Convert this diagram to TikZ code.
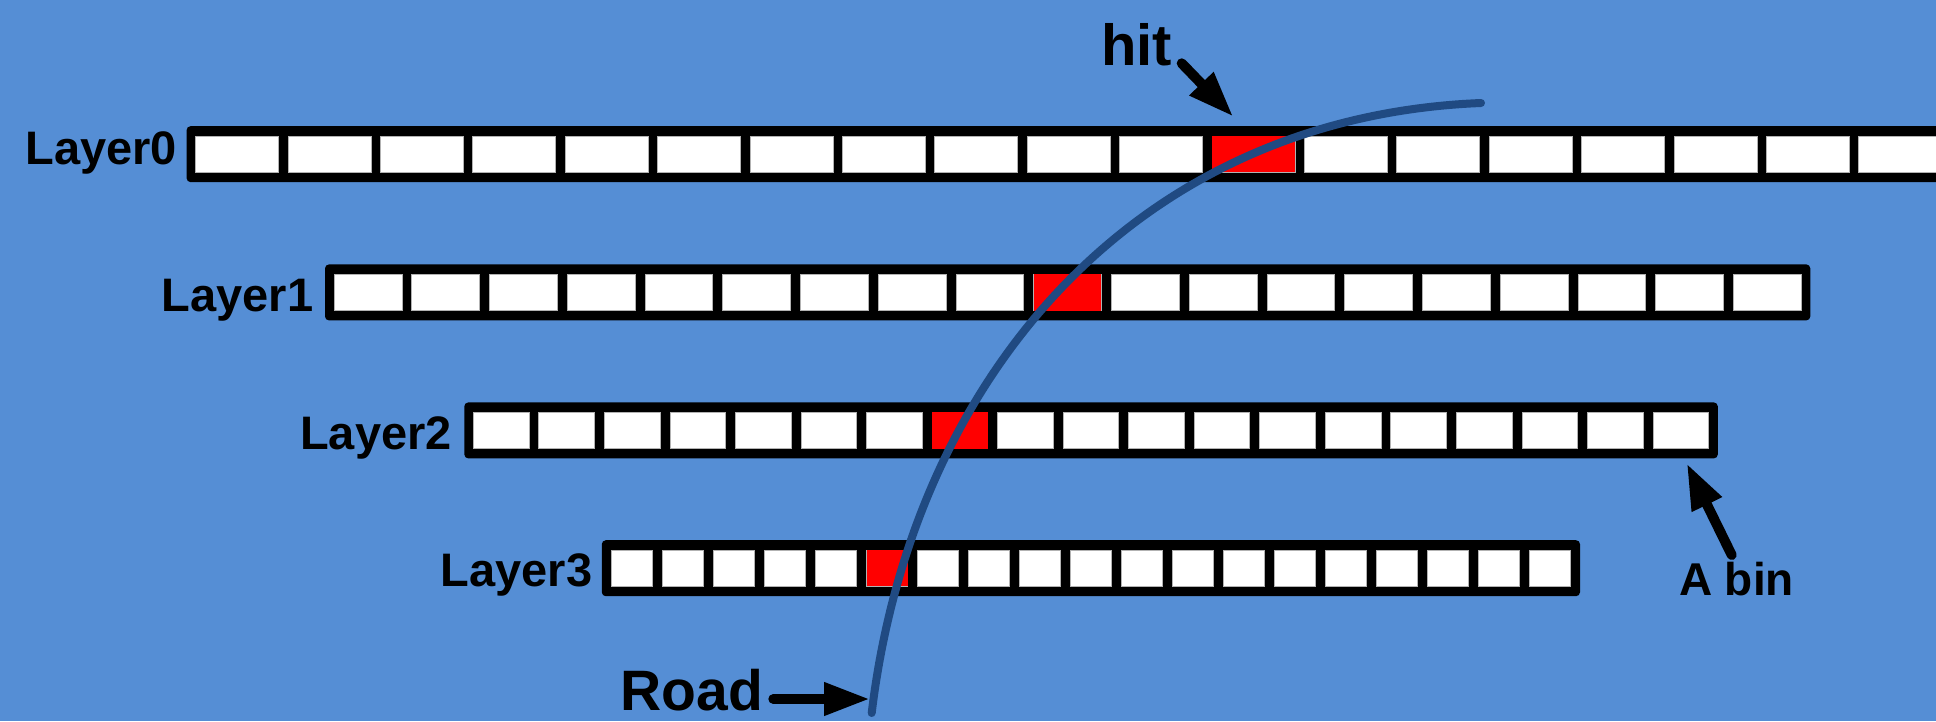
\documentclass[tikz,border=0pt]{standalone}
\usepackage{fontspec}
\setmainfont{Liberation Sans}
\usetikzlibrary{arrows.meta}
\definecolor{bgblue}{RGB}{85,142,213}
\definecolor{roadc}{RGB}{32,74,130}
\definecolor{hitred}{RGB}{255,0,0}
\newcommand{\drawlayer}[7]{% #1 id, #2 barL, #3 barR, #4 bar center y, #5 first cell x, #6 pitch, #7 cell w
  \pgfmathsetmacro{\LbW}{#3-#2}%
  \pgfmathsetmacro{\LbX}{(#2+#3)/2}%
  \node[barbox, minimum width=\LbW pt] (#1bar) at (\LbX,#4) {};%
  \foreach \i in {0,...,18} {%
    \pgfmathsetmacro{\LcX}{#5+\i*#6+#7/2}%
    \node[cellbox, minimum width=#7pt] (#1c\i) at (\LcX,#4) {};%
  }%
}
\begin{document}
\begin{tikzpicture}[x=1pt,y=-1pt,
  barbox/.style={fill=black, draw=none, rounded corners=4pt, minimum height=56pt, inner sep=0pt, outer sep=0pt},
  cellbox/.style={fill=white, draw=gray!60, line width=0.6pt, minimum height=36.3pt, inner sep=0pt, outer sep=0pt},
  lbl/.style={inner sep=0pt, outer sep=0pt, font=\bfseries\fontsize{47}{47}\selectfont},
  ptr/.style={line width=10pt, line cap=round, -{Triangle[length=46pt,width=31pt]}},
  roadline/.style={draw=roadc, line width=8pt, line cap=round}]
\fill[bgblue] (0,0) rectangle (1936,721);
\clip (0,0) rectangle (1936,721);

% layers
\drawlayer{L0}{186.6}{1975}{154.15}{195.5}{92.4}{83}
\drawlayer{L1}{325}{1810.3}{292.4}{334}{77.74}{67.8}
\drawlayer{L2}{464.3}{1717.8}{430.4}{473.2}{65.54}{55.6}
\drawlayer{L3}{601.8}{1580}{568.2}{611.7}{50.97}{41}

% hit cells
\node[cellbox, fill=hitred, draw=none, minimum width=83pt] (L0hit) at (L0c11) {};
\node[cellbox, fill=hitred, draw=none, minimum width=67.8pt] (L1hit) at (L1c9) {};
\node[cellbox, fill=hitred, draw=none, minimum width=55.6pt] (L2hit) at (L2c7) {};
\node[cellbox, fill=hitred, draw=none, minimum width=41pt] (L3hit) at (L3c5) {};

% labels
\node[lbl, anchor=base west] (lab0) at (25.6,164) {Layer0};
\node[lbl, anchor=base west] (lab1) at (161.8,311.7) {Layer1};
\node[lbl, anchor=base west] (lab2) at (300.2,449.3) {Layer2};
\node[lbl, anchor=base west] (lab3) at (440.8,586.7) {Layer3};
\node[lbl, anchor=base west, font=\bfseries\fontsize{58}{58}\selectfont] (hit) at (1101,65) {hit};
\node[lbl, anchor=base west, font=\bfseries\fontsize{57}{57}\selectfont] (road) at (620.7,710) {Road};
\node[lbl, anchor=base west, font=\bfseries\fontsize{46}{46}\selectfont] (abin) at (1679,595.7) {A bin};

% pointers
\coordinate (hitTail) at (1181.7,63.3);
\coordinate (hitTip) at (1233.3,116.7);
\coordinate (roadTail) at (773.3,699);
\coordinate (roadTip) at (870,699);
\coordinate (binTail) at (1731.7,555);
\coordinate (binTip) at (1686.7,463.3);
\draw[ptr] (hitTail) -- (hitTip);
\draw[ptr] (roadTail) -- (roadTip);
\draw[ptr] (binTail) -- (binTip);

% road
\coordinate (roadStart) at (871.7,713);
\coordinate (roadEnd) at (1481,103);
\draw[roadline] (roadStart) .. controls (911.3,383) and (1131,117) .. (roadEnd);
\end{tikzpicture}
\end{document}
